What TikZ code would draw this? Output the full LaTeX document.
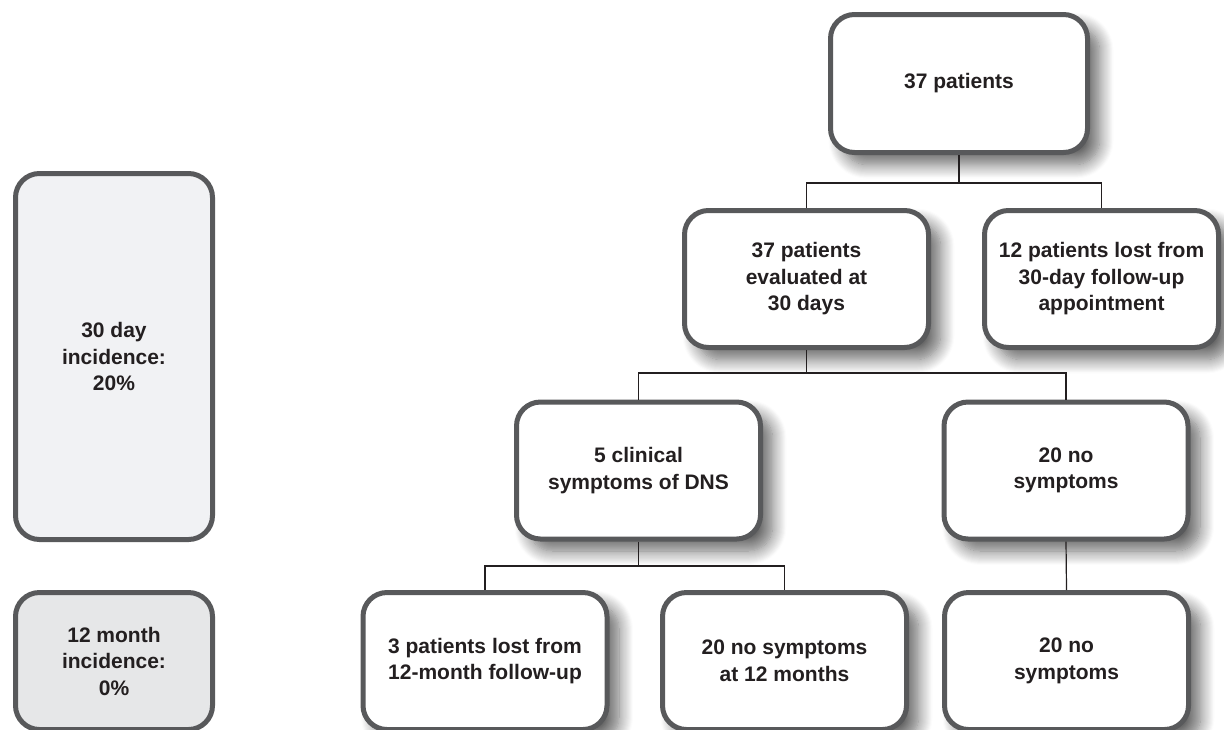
\documentclass[tikz,border=0pt]{standalone}
\usepackage{fontspec}
\setmainfont{Liberation Sans}
\usetikzlibrary{shadows.blur}
\definecolor{boxline}{HTML}{58595B}
\definecolor{inktext}{HTML}{231F20}
\definecolor{fillthirty}{HTML}{F1F2F4}
\definecolor{filltwelve}{HTML}{E6E7E8}

\begin{document}
\begin{tikzpicture}[x=0.5pt,y=-0.5pt,
            every node/.style={font=\fontsize{10.5}{13.25}\selectfont\bfseries,text=inktext}]
            \tikzstyle{box}=[draw=boxline,line width=2.5pt,rounded corners=12pt,fill=white,align=center,
                inner sep=0pt,minimum width=122pt,minimum height=68.5pt,
                blur shadow={shadow xshift=6pt,shadow yshift=-6pt,shadow blur radius=7pt,
                    shadow blur steps=14,shadow opacity=60}]
            \tikzstyle{sidebox}=[draw=boxline,line width=2.5pt,rounded corners=12pt,align=center,
                inner sep=0pt,minimum width=98.5pt]
            \tikzstyle{link}=[draw=inktext,line width=0.6pt]
            \useasboundingbox (0,0) rectangle (1224,729);
            % flow boxes
            \node[box,minimum width=128.5pt,minimum height=69pt] (top) at (959,83.5) {37 patients};
            \node[box] (eval) at (806.5,279) {37 patients\\evaluated at\\30 days};
            \node[box,minimum width=117pt] (lost30) at (1101.5,279) {12 patients lost from\\30-day follow-up\\appointment};
            \node[box] (dns) at (638.5,470.5) {5 clinical\\symptoms of DNS};
            \node[box] (nosym30) at (1066,470.5) {20 no\\symptoms};
            \node[box] (lost12) at (485,661) {3 patients lost from\\12-month follow-up};
            \node[box] (nosym12) at (784.5,661) {20 no symptoms\\at 12 months};
            \node[box] (nosymend) at (1066.5,661) {20 no\\symptoms};
            % incidence boxes
            \node[sidebox,fill=fillthirty,minimum height=183pt] (inc30) at (114,356.5) {30 day\\incidence:\\20\%};
            \node[sidebox,fill=filltwelve,minimum height=68.5pt] (inc12) at (114,661) {12 month\\incidence:\\0\%};
            % connectors
            \coordinate (fork1) at (954,183);
            \coordinate (fork2) at (806.5,373);
            \coordinate (fork3) at (638.5,566);
            \draw[link] (top.south) -- (top.south |- fork1);
            \draw[link] (eval.north) |- (fork1) -| (lost30.north);
            \draw[link] (eval.south) -- (fork2);
            \draw[link] (dns.north) |- (fork2) -| (nosym30.north);
            \draw[link] (dns.south) -- (fork3);
            \draw[link] (lost12.north) |- (fork3) -| (nosym12.north);
            \draw[link] (nosym30.south) -- (nosymend.north);
\end{tikzpicture}
\end{document}
